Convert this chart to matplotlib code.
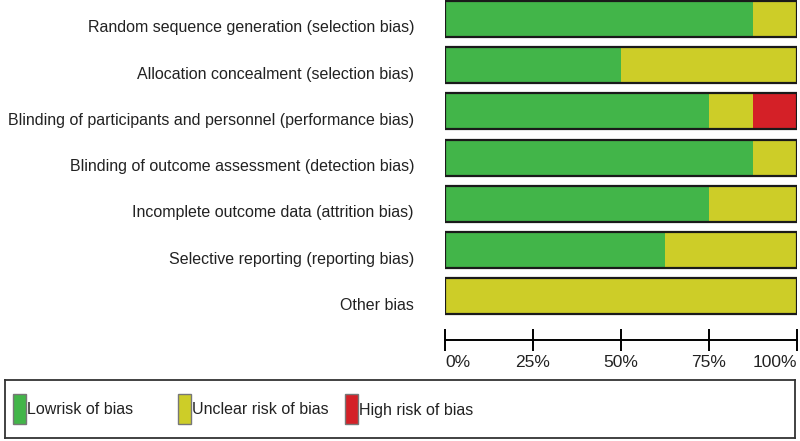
import numpy as np
import matplotlib.pyplot as plt
import matplotlib.patches as patches

# Risk of bias summary (proportion of studies, %)
domains = [
    'Random sequence generation (selection bias)',
    'Allocation concealment (selection bias)',
    'Blinding of participants and personnel (performance bias)',
    'Blinding of outcome assessment (detection bias)',
    'Incomplete outcome data (attrition bias)',
    'Selective reporting (reporting bias)',
    'Other bias',
]
low_risk = [87.5, 50.0, 75.0, 87.5, 75.0, 62.5, 0.0]
unclear_risk = [12.5, 50.0, 12.5, 12.5, 25.0, 37.5, 100.0]
high_risk = [0.0, 0.0, 12.5, 0.0, 0.0, 0.0, 0.0]

categories = ['Lowrisk of bias', 'Unclear risk of bias', 'High risk of bias']
colors = ['#42b549', '#cdcd28', '#d42027']
ticks = [0, 25, 50, 75, 100]
tick_labels = ['0%', '25%', '50%', '75%', '100%']

plt.rcParams['font.family'] = ['Liberation Sans', 'DejaVu Sans']

W, H = 800, 441
fig = plt.figure(figsize=(8, 4.41), dpi=100)

# main bar axes
ax = fig.add_axes([445 / W, (H - 319) / H, 352 / W, 319 / H])
y = np.arange(len(domains))
low = np.array(low_risk)
unc = np.array(unclear_risk)
high = np.array(high_risk)
bh = 0.78
ax.barh(y, low, height=bh, color=colors[0], linewidth=0)
ax.barh(y, unc, left=low, height=bh, color=colors[1], linewidth=0)
ax.barh(y, high, left=low + unc, height=bh, color=colors[2], linewidth=0)
ax.barh(y, low + unc + high, height=bh, facecolor='none', edgecolor='#1a1a1a', linewidth=1.6)
ax.set_xlim(0, 100)
ax.set_ylim(6.49, -0.41)
ax.set_yticks([])
ax.set_xticks([])
for s in ax.spines.values():
    s.set_visible(False)

# row labels sit a little below the bar centres, as in the original
for yi, name in zip(y, domains):
    ax.annotate(name, xy=(0, yi), xycoords=('axes fraction', 'data'),
                xytext=(-31, -9), textcoords='offset pixels',
                ha='right', va='center', fontsize=11.5, color='#222222')

# scale axis
sax = fig.add_axes([445 / W, (H - 340) / H, 352 / W, 0.0001])
sax.set_xlim(0, 100)
sax.set_yticks([])
for s in ['top', 'left', 'right']:
    sax.spines[s].set_visible(False)
sax.spines['bottom'].set_linewidth(1.4)
sax.set_xticks(ticks)
sax.set_xticklabels(tick_labels, fontsize=12.5, color='#222222')
sax.tick_params(axis='x', direction='inout', length=16, width=1.4, pad=3)
lbls = sax.get_xticklabels()
lbls[0].set_ha('left')
lbls[-1].set_ha('right')

# legend box
lax = fig.add_axes([5 / W, 3 / H, 790 / W, 58 / H])
lax.set_xlim(0, 790)
lax.set_ylim(58, 0)
lax.set_xticks([])
lax.set_yticks([])
for s in lax.spines.values():
    s.set_linewidth(1.3)
    s.set_color('#333333')
patch_x = [8, 173, 340]
for px, c, lab in zip(patch_x, colors, categories):
    lax.add_patch(patches.Rectangle((px, 14), 13, 30, facecolor=c, edgecolor='#777777', linewidth=1.0))
    lax.text(px + 14, 30, lab, fontsize=11.5, va='center', ha='left', color='#222222')

fig.savefig('out.png', dpi=100)
